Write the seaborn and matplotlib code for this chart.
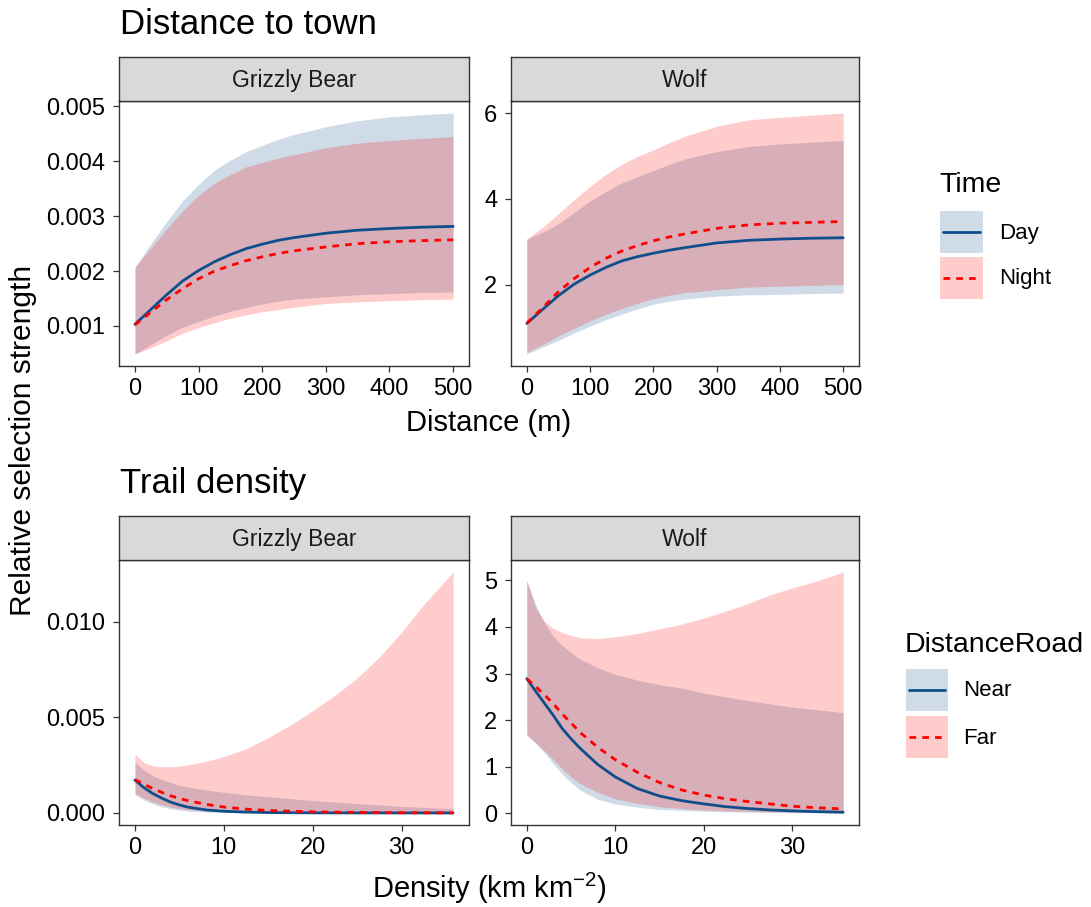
import numpy as np
import pandas as pd
import matplotlib
matplotlib.use("Agg")
import matplotlib.pyplot as plt
import seaborn as sns
from matplotlib.patches import Rectangle
from matplotlib.lines import Line2D
from matplotlib.ticker import MultipleLocator, FormatStrFormatter

# ---------------- data ----------------
species = ["Grizzly Bear", "Wolf"]
time_levels = ["Day", "Night"]
road_levels = ["Near", "Far"]

dist_m = [0, 25, 50, 75, 100, 125, 150, 175, 200, 225, 250, 300, 350, 400, 450, 500]

# Grizzly bear, distance to town (values x 1e-3)
bear_town_day_fit = [1.03, 1.30, 1.57, 1.82, 2.01, 2.17, 2.30, 2.41, 2.49, 2.56, 2.61, 2.69,
                     2.745, 2.776, 2.80, 2.815]
bear_town_day_lo = [0.49, 0.66, 0.83, 0.98, 1.08, 1.18, 1.27, 1.34, 1.40, 1.45, 1.49, 1.53,
                    1.57, 1.59, 1.61, 1.62]
bear_town_day_hi = [2.07, 2.50, 2.90, 3.28, 3.58, 3.84, 4.02, 4.18, 4.29, 4.40, 4.49, 4.63,
                    4.74, 4.81, 4.85, 4.88]
bear_town_night_fit = [1.02, 1.25, 1.48, 1.68, 1.86, 2.00, 2.10, 2.19, 2.26, 2.32, 2.37, 2.44,
                       2.50, 2.535, 2.555, 2.57]
bear_town_night_lo = [0.49, 0.60, 0.73, 0.87, 0.97, 1.06, 1.14, 1.20, 1.26, 1.30, 1.34, 1.41,
                      1.44, 1.46, 1.48, 1.49]
bear_town_night_hi = [2.07, 2.42, 2.77, 3.10, 3.38, 3.60, 3.76, 3.90, 3.98, 4.06, 4.12, 4.25,
                      4.33, 4.38, 4.42, 4.45]

# Wolf, distance to town
wolf_town_day_fit = [1.09, 1.42, 1.74, 2.01, 2.22, 2.40, 2.55, 2.65, 2.73, 2.80, 2.86, 2.97,
                     3.03, 3.06, 3.08, 3.09]
wolf_town_day_lo = [0.38, 0.54, 0.70, 0.87, 1.03, 1.18, 1.31, 1.43, 1.54, 1.61, 1.66, 1.73,
                    1.76, 1.77, 1.79, 1.80]
wolf_town_day_hi = [3.06, 3.22, 3.42, 3.68, 3.95, 4.17, 4.37, 4.52, 4.66, 4.80, 4.93, 5.10,
                    5.22, 5.28, 5.32, 5.36]
wolf_town_night_fit = [1.10, 1.46, 1.83, 2.14, 2.40, 2.61, 2.78, 2.91, 3.02, 3.11, 3.18, 3.31,
                       3.39, 3.43, 3.45, 3.47]
wolf_town_night_lo = [0.42, 0.60, 0.80, 0.98, 1.15, 1.31, 1.44, 1.56, 1.67, 1.75, 1.81, 1.88,
                      1.94, 1.96, 1.98, 2.00]
wolf_town_night_hi = [3.06, 3.34, 3.65, 3.98, 4.29, 4.57, 4.80, 4.99, 5.14, 5.31, 5.46, 5.69,
                      5.84, 5.90, 5.95, 6.00]

density = [0, 1, 2, 3, 4, 5, 6, 8, 10, 12.5, 15, 17.5, 20, 22.5, 25, 27.5, 30, 32.5, 35.8]

# Grizzly bear, trail density (values x 1e-3)
bear_trail_near_fit = [1.72, 1.33, 1.02, 0.78, 0.57, 0.42, 0.30, 0.16, 0.09, 0.045, 0.022, 0.011,
                       0.006, 0.003, 0.002, 0.001, 0.0005, 0.0003, 0.0001]
bear_trail_near_lo = [0.96, 0.68, 0.48, 0.33, 0.22, 0.15, 0.10, 0.05, 0.025, 0.01, 0.005, 0.002,
                      0.001, 0.0005, 0.0003, 0.0002, 0.0001, 0.0001, 0.00005]
bear_trail_near_hi = [2.65, 2.25, 1.95, 1.75, 1.60, 1.45, 1.35, 1.20, 1.08, 0.95, 0.85, 0.75,
                      0.65, 0.57, 0.49, 0.42, 0.35, 0.29, 0.23]
bear_trail_far_fit = [1.75, 1.50, 1.28, 1.08, 0.90, 0.76, 0.64, 0.45, 0.31, 0.20, 0.13, 0.09,
                      0.06, 0.04, 0.03, 0.02, 0.013, 0.009, 0.005]
bear_trail_far_lo = [1.02, 0.78, 0.58, 0.43, 0.31, 0.23, 0.17, 0.10, 0.06, 0.04, 0.025, 0.016,
                     0.01, 0.007, 0.005, 0.003, 0.002, 0.0015, 0.001]
bear_trail_far_hi = [3.09, 2.64, 2.46, 2.42, 2.42, 2.45, 2.52, 2.70, 2.95, 3.35, 3.95, 4.60,
                     5.35, 6.15, 7.05, 8.15, 9.45, 10.9, 12.6]

# Wolf, trail density
wolf_trail_near_fit = [2.89, 2.62, 2.36, 2.10, 1.82, 1.60, 1.40, 1.05, 0.78, 0.53, 0.37, 0.27,
                       0.20, 0.14, 0.10, 0.07, 0.05, 0.035, 0.02]
wolf_trail_near_lo = [1.68, 1.50, 1.30, 1.06, 0.84, 0.66, 0.50, 0.30, 0.20, 0.13, 0.08, 0.06,
                      0.04, 0.03, 0.02, 0.015, 0.01, 0.008, 0.005]
wolf_trail_near_hi = [5.00, 4.48, 4.08, 3.80, 3.60, 3.45, 3.31, 3.13, 2.98, 2.86, 2.76, 2.69,
                      2.58, 2.50, 2.42, 2.35, 2.28, 2.23, 2.16]
wolf_trail_far_fit = [2.89, 2.72, 2.54, 2.35, 2.13, 1.94, 1.74, 1.42, 1.15, 0.88, 0.66, 0.50,
                      0.39, 0.31, 0.25, 0.20, 0.15, 0.12, 0.09]
wolf_trail_far_lo = [1.68, 1.52, 1.34, 1.15, 0.95, 0.78, 0.64, 0.45, 0.31, 0.21, 0.14, 0.10,
                     0.07, 0.05, 0.04, 0.03, 0.02, 0.015, 0.01]
wolf_trail_far_hi = [5.00, 4.41, 4.12, 3.97, 3.88, 3.82, 3.77, 3.75, 3.79, 3.86, 3.96, 4.06,
                     4.19, 4.34, 4.50, 4.69, 4.84, 4.97, 5.18]

# ---------------- style ----------------
sns.set_style("white")
plt.rcParams["font.family"] = ["Liberation Sans", "DejaVu Sans"]
plt.rcParams["text.color"] = "black"
plt.rcParams["axes.labelcolor"] = "black"
plt.rcParams["mathtext.fontset"] = "custom"
plt.rcParams["mathtext.rm"] = "Liberation Sans"
plt.rcParams["mathtext.it"] = "Liberation Sans:italic"
plt.rcParams["mathtext.default"] = "regular"

BLUE = "#104E8B"
RED = "#FF0000"
EDGE = "#333333"
DASH = (2.4, 2.2)
W, H = 1091, 907

fig = plt.figure(figsize=(W / 100, H / 100), dpi=100)
fig.patch.set_facecolor("white")


def px_axes(x0, y0, x1, y1):
    return fig.add_axes([x0 / W, 1 - y1 / H, (x1 - x0) / W, (y1 - y0) / H])


def strip(x0, y0, x1, y1, label):
    s = px_axes(x0, y0, x1, y1)
    s.set_facecolor("#D9D9D9")
    s.set_xticks([])
    s.set_yticks([])
    for sp in s.spines.values():
        sp.set_color(EDGE)
        sp.set_linewidth(1.0)
    s.text(0.5, 0.47, label, transform=s.transAxes, ha="center", va="center",
           fontsize=16.5, color="#1A1A1A")


def panel(ax, x, series, names, scale, xstep, ystep, yfmt):
    frames = []
    for name, (fit, lo, hi) in zip(names, series):
        frames.append(pd.DataFrame({
            "x": x,
            "fit": np.asarray(fit) * scale,
            "lo": np.asarray(lo) * scale,
            "hi": np.asarray(hi) * scale,
            "group": name,
        }))
    df = pd.concat(frames, ignore_index=True)
    colors = {names[0]: BLUE, names[1]: RED}
    for name in names:
        d = df[df["group"] == name]
        ax.fill_between(d["x"], d["lo"], d["hi"], color=colors[name], alpha=0.2,
                        lw=0, zorder=1)
    sns.lineplot(data=df, x="x", y="fit", hue="group", style="group",
                 hue_order=names, style_order=names, palette=colors,
                 dashes={names[0]: "", names[1]: DASH},
                 linewidth=2.0, legend=False, errorbar=None, ax=ax, zorder=3)
    xmin, xmax = df["x"].min(), df["x"].max()
    ymin = min(df["lo"].min(), df["fit"].min())
    ymax = max(df["hi"].max(), df["fit"].max())
    px = 0.05 * (xmax - xmin)
    py = 0.05 * (ymax - ymin)
    ax.set_xlim(xmin - px, xmax + px)
    ax.set_ylim(ymin - py, ymax + py)
    ax.xaxis.set_major_locator(MultipleLocator(xstep))
    ax.yaxis.set_major_locator(MultipleLocator(ystep))
    ax.yaxis.set_major_formatter(FormatStrFormatter(yfmt))
    ax.set_xlabel("")
    ax.set_ylabel("")
    ax.set_facecolor("white")
    for sp in ax.spines.values():
        sp.set_visible(True)
        sp.set_color(EDGE)
        sp.set_linewidth(1.0)
    ax.tick_params(axis="both", direction="out", length=4.3, width=0.9, color=EDGE,
                   labelsize=17, labelcolor="black", bottom=True, left=True)
    ax.tick_params(axis="y", pad=5.5)
    ax.tick_params(axis="x", pad=4)


# layout (pixels)
LX = (119, 469)
RX = (511, 859)
TOP_STRIP = (57, 101)
TOP_PANEL = (101, 366)
BOT_STRIP = (516, 560)
BOT_PANEL = (560, 825)

# Top row: distance to town
ax1 = px_axes(LX[0], TOP_PANEL[0], LX[1], TOP_PANEL[1])
panel(ax1, dist_m,
      [(bear_town_day_fit, bear_town_day_lo, bear_town_day_hi),
       (bear_town_night_fit, bear_town_night_lo, bear_town_night_hi)],
      time_levels, 1e-3, 100, 0.001, "%.3f")
strip(LX[0], TOP_STRIP[0], LX[1], TOP_STRIP[1], species[0])

ax2 = px_axes(RX[0], TOP_PANEL[0], RX[1], TOP_PANEL[1])
panel(ax2, dist_m,
      [(wolf_town_day_fit, wolf_town_day_lo, wolf_town_day_hi),
       (wolf_town_night_fit, wolf_town_night_lo, wolf_town_night_hi)],
      time_levels, 1.0, 100, 2, "%g")
strip(RX[0], TOP_STRIP[0], RX[1], TOP_STRIP[1], species[1])

# Bottom row: trail density
ax3 = px_axes(LX[0], BOT_PANEL[0], LX[1], BOT_PANEL[1])
panel(ax3, density,
      [(bear_trail_near_fit, bear_trail_near_lo, bear_trail_near_hi),
       (bear_trail_far_fit, bear_trail_far_lo, bear_trail_far_hi)],
      road_levels, 1e-3, 10, 0.005, "%.3f")
strip(LX[0], BOT_STRIP[0], LX[1], BOT_STRIP[1], species[0])

ax4 = px_axes(RX[0], BOT_PANEL[0], RX[1], BOT_PANEL[1])
panel(ax4, density,
      [(wolf_trail_near_fit, wolf_trail_near_lo, wolf_trail_near_hi),
       (wolf_trail_far_fit, wolf_trail_far_lo, wolf_trail_far_hi)],
      road_levels, 1.0, 10, 1, "%g")
strip(RX[0], BOT_STRIP[0], RX[1], BOT_STRIP[1], species[1])

# Titles and axis labels
fig.text(120 / W, 1 - 34 / H, "Distance to town", fontsize=25, ha="left", va="baseline")
fig.text(120 / W, 1 - 493 / H, "Trail density", fontsize=25, ha="left", va="baseline")
fig.text(489 / W, 1 - 431 / H, "Distance (m)", fontsize=21, ha="center", va="baseline")
fig.text(489 / W, 1 - 898 / H, "Density (km km$^{-2}$)", fontsize=21, ha="center",
         va="baseline")
fig.text(23 / W, 1 - 440 / H, "Relative selection strength", fontsize=21.5, rotation=90,
         ha="center", va="center")


# Legends (drawn as keys: light filled square + line, then label)
def fig_rect(x0, y0, x1, y1, color):
    fig.add_artist(Rectangle((x0 / W, 1 - y1 / H), (x1 - x0) / W, (y1 - y0) / H,
                             transform=fig.transFigure, facecolor=color, alpha=0.2,
                             linewidth=0))


def fig_line(x0, x1, y, color, ls):
    fig.add_artist(Line2D([x0 / W, x1 / W], [1 - y / H, 1 - y / H],
                          transform=fig.transFigure, color=color, lw=2.0, linestyle=ls))


def make_legend(labels, title, key_left, key_tops, title_left, title_base, label_left):
    styles = [(BLUE, "-"), (RED, (0, DASH))]
    kw, kh = 42.4, 42.0
    for lab, top, (col, ls) in zip(labels, key_tops, styles):
        fig_rect(key_left, top, key_left + kw, top + kh, col)
        fig_line(key_left + 3, key_left + kw - 3, top + kh / 2, col, ls)
        fig.text(label_left / W, 1 - (top + kh / 2 + 1) / H, lab, fontsize=16,
                 ha="left", va="center")
    fig.text(title_left / W, 1 - title_base / H, title, fontsize=20.5, ha="left",
             va="baseline")


make_legend(time_levels, "Time", 940.3, [211, 256.7], 939, 191.7, 999)
make_legend(road_levels, "DistanceRoad", 905.7, [669, 716], 905, 651.7, 963.5)

fig.savefig("out.png", dpi=100, facecolor="white")
